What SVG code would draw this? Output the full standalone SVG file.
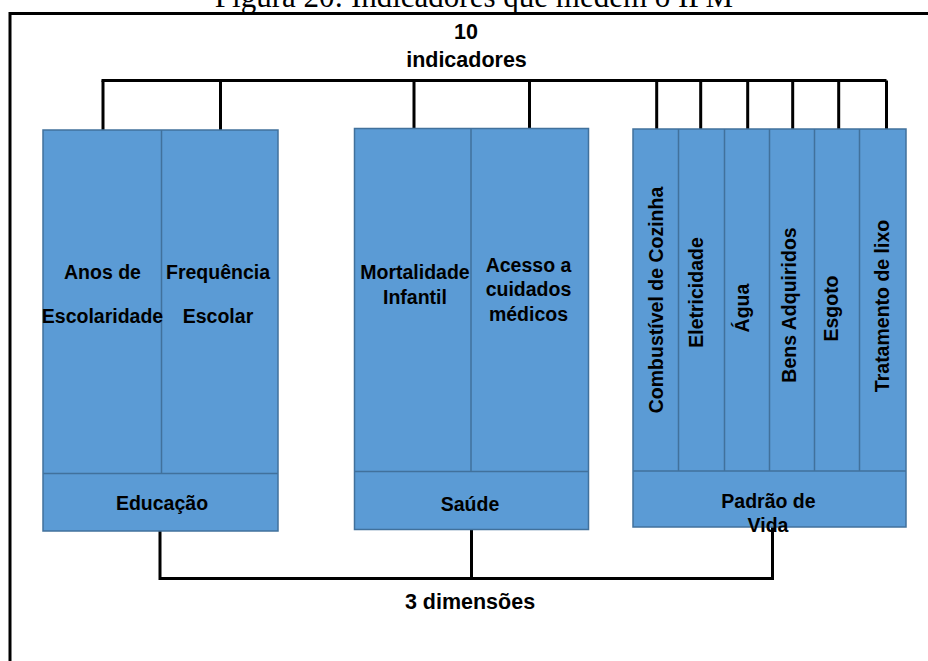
<svg xmlns="http://www.w3.org/2000/svg" width="928" height="661" viewBox="0 0 928 661">
  <style>
    .box { fill: #5B9BD5; stroke: #41719C; stroke-width: 1.5; }
    .div { stroke: #41719C; stroke-width: 1.5; fill: none; }
    .lbl { font-family: "Liberation Sans", Arial, sans-serif; font-weight: bold; font-size: 19.5px; fill: #000; text-anchor: middle; }
    .big { font-family: "Liberation Sans", Arial, sans-serif; font-weight: bold; font-size: 21.5px; fill: #000; text-anchor: middle; }
    .title { font-family: "Liberation Serif", "Times New Roman", serif; font-size: 31px; fill: #000; text-anchor: middle; }
    .con { stroke: #000; stroke-width: 3; fill: none; }
    .frame { stroke: #000; stroke-width: 3; fill: none; }
  </style>
  <rect width="928" height="661" fill="#ffffff"/>

  <g id="title">
    <text class="title" x="474" y="7">Figura 20: Indicadores que medem o IPM</text>
  </g>

  <g id="frame">
    <path class="frame" d="M928 13.5 H8.5 M10 12 V661"/>
  </g>

  <g id="top-label">
    <text class="big" x="466" y="38.5">10</text>
    <text class="big" x="466.5" y="67">indicadores</text>
  </g>

  <g id="bottom-label">
    <text class="big" x="470" y="609">3 dimensões</text>
  </g>

  <g id="connectors">
    <path class="con" d="M101.5 80.5 H886.5"/>
    <path class="con" d="M103 80.5 V130 M220.5 80.5 V130 M414 80.5 V128 M529.5 80.5 V128 M656.7 80.5 V129 M700.7 80.5 V129 M747.7 80.5 V129 M792.7 80.5 V129 M838.7 80.5 V129 M886.5 80.5 V129"/>
    <path class="con" d="M160 531 V578.5 H772.5 V527 M471.5 529.5 V578.5"/>
  </g>

  <g id="educacao">
    <rect class="box" x="43" y="130" width="235" height="401"/>
    <path class="div" d="M161.5 130 V473.5 M43 473.5 H278"/>
    <text class="lbl" x="102.5" y="279">Anos de</text>
    <text class="lbl" x="102.5" y="322.5">Escolaridade</text>
    <text class="lbl" x="218" y="279">Frequência</text>
    <text class="lbl" x="218" y="322.5">Escolar</text>
    <text class="lbl" x="162" y="510">Educação</text>
  </g>

  <g id="saude">
    <rect class="box" x="354.5" y="128.5" width="234" height="401"/>
    <path class="div" d="M471 128.5 V471.5 M354.5 471.5 H588.5"/>
    <text class="lbl" x="415" y="279">Mortalidade</text>
    <text class="lbl" x="415" y="304">Infantil</text>
    <text class="lbl" x="528.5" y="271.5">Acesso a</text>
    <text class="lbl" x="528.5" y="296">cuidados</text>
    <text class="lbl" x="528.5" y="321">médicos</text>
    <text class="lbl" x="470" y="510.5">Saúde</text>
  </g>

  <g id="padrao">
    <rect class="box" x="633" y="129" width="273" height="398"/>
    <path class="div" d="M678.5 129 V471 M724.5 129 V471 M769.5 129 V471 M814.5 129 V471 M859.5 129 V471 M633 471 H906"/>
    <text class="lbl" transform="translate(663 300) rotate(-90)">Combustível de Cozinha</text>
    <text class="lbl" transform="translate(702.5 292.5) rotate(-90)">Eletricidade</text>
    <text class="lbl" transform="translate(749 308) rotate(-90)">Água</text>
    <text class="lbl" transform="translate(796 305) rotate(-90)">Bens Adquiridos</text>
    <text class="lbl" transform="translate(837.5 308.5) rotate(-90)">Esgoto</text>
    <text class="lbl" transform="translate(889 306) rotate(-90)">Tratamento de lixo</text>
    <text class="lbl" x="768.5" y="507.5">Padrão de</text>
    <text class="lbl" x="768" y="532">Vida</text>
  </g>
</svg>
